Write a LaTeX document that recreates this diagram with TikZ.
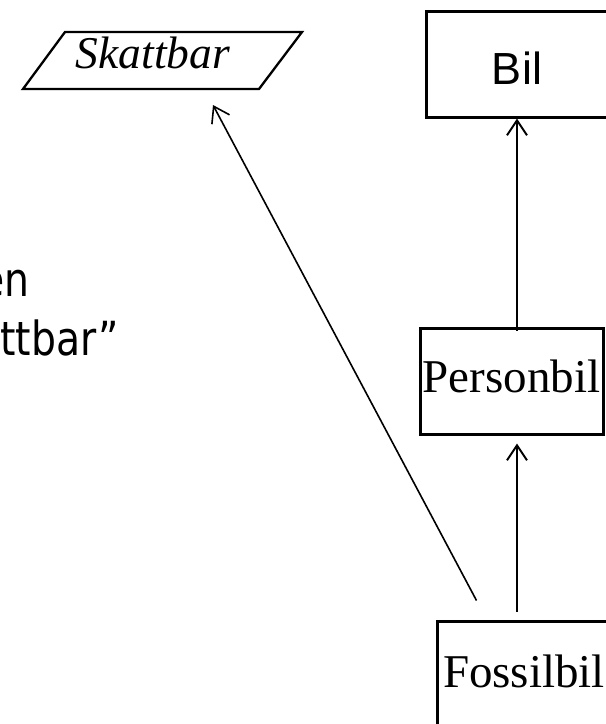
\documentclass[tikz,border=0pt]{standalone}
\usepackage{fontspec}
\setmainfont{Liberation Serif}
\newfontfamily\arialfont{Liberation Sans}
\newfontfamily\bodyfont[FakeStretch=0.93]{DejaVu Sans Condensed}
\usetikzlibrary{arrows.meta,calc}

\begin{document}
\begin{tikzpicture}[x=1pt,y=-1pt,
  classbox/.style={draw, line width=3pt, inner sep=0pt, minimum height=106pt},
  conn/.style={line width=2pt, -{Straight Barb[length=15pt,width=20pt]}},
  bodytext/.style={inner sep=0pt, font=\bodyfont\fontsize{47}{58}\selectfont}
]
\useasboundingbox (0,0) rectangle (606,724);
\clip (0,0) rectangle (606,724);

% interface: parallelogram with italic label
\draw[line width=2.3pt, line join=miter] (65,32) -- (302,32) -- (259,89) -- (23,89) -- cycle;
\node[inner sep=0pt, anchor=base, font=\itshape\fontsize{45.5}{54}\selectfont] (skat) at (153,68) {Skattbar};
\coordinate (skatin) at ($(skat.base)+(60,37)$);

% class boxes
\node[classbox, minimum width=182pt, text height=40pt, text depth=0pt,
      font=\arialfont\fontsize{45}{54}\selectfont] (bil) at (517,64) {Bil};
\node[classbox, minimum width=183pt, text height=32pt, text depth=10pt,
      font=\fontsize{47}{56}\selectfont] (pers) at (511.5,381) {Personbil};
\node[classbox, minimum width=174pt, text height=34pt, text depth=8pt,
      font=\fontsize{47}{56}\selectfont] (fossil) at (524,674) {Fossilbil};
\coordinate (fstart) at ($(fossil.north west)+(41,-19)$);

% running text at the left margin
\node[bodytext, anchor=base east] (t1) at (30,296) {en};
\node[bodytext, anchor=base east] (t2) at (119,355) {ttbar”};

% inheritance and realisation connectors
\draw[conn] ($(pers.north -| bil.south)+(0,4)$) -- (bil.south);
\draw[conn] ($(fossil.north -| bil.south)+(0,-8)$) -- ($(pers.south -| bil.south)+(0,8)$);
\draw[conn, line width=1.6pt] (fstart) -- (skatin);
\end{tikzpicture}
\end{document}
